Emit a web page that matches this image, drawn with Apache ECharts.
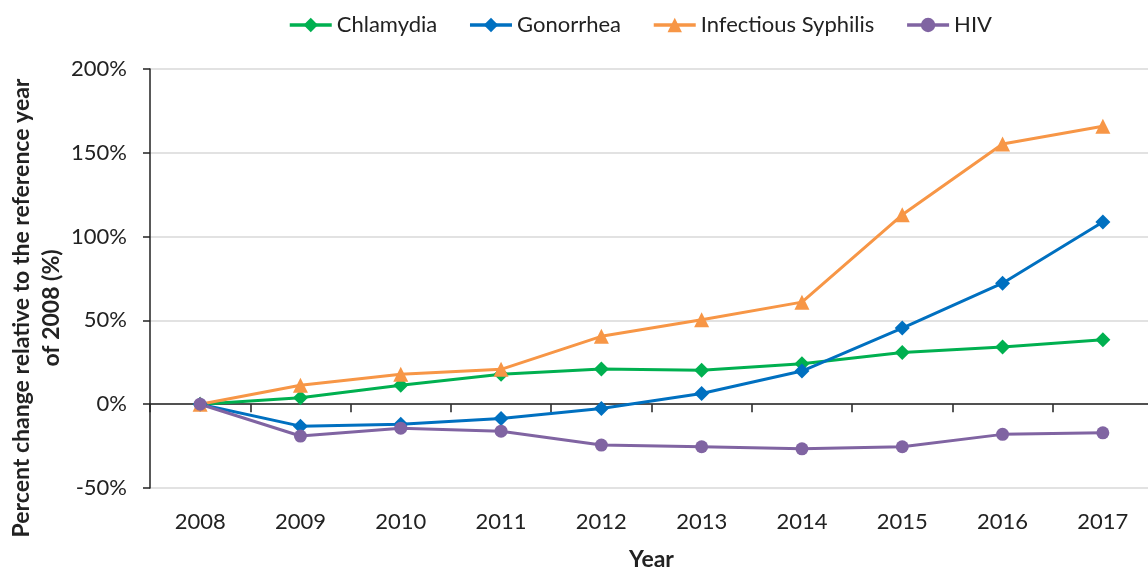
<!DOCTYPE html>
<html>
<head>
<meta charset="utf-8">
<script src="https://cdn.jsdelivr.net/npm/echarts@6/dist/echarts.min.js"></script>
<style>
  html, body { margin: 0; padding: 0; background: #fff; }
  #container { width: 1148px; height: 567px; }
</style>
</head>
<body>
<div id="container"></div>
<script>
// percent change relative to 2008
var years = ['2008', '2009', '2010', '2011', '2012', '2013', '2014', '2015', '2016', '2017'];
var chlamydia = [0, 3.8, 11.3, 17.9, 21.0, 20.2, 24.2, 30.8, 34.1, 38.5];
var gonorrhea = [0, -13.1, -11.9, -8.5, -2.6, 6.4, 19.8, 45.4, 72.2, 108.7];
var syphilis = [0, 11.3, 17.9, 20.8, 40.5, 50.4, 60.9, 113, 155.2, 165.9];
var hiv = [0, -19, -14.3, -16.1, -24.4, -25.4, -26.6, -25.4, -18, -17.1];

var dom = document.getElementById('container');
var myChart = echarts.init(dom);
var font = 'Lato, "Open Sans", sans-serif';

var mkSeries = function (name, data, color, symbol, size) {
    return {
        name: name,
        type: 'line',
        data: data,
        symbol: symbol,
        symbolSize: size,
        lineStyle: { color: color, width: 3 },
        itemStyle: { color: color },
        animation: false
    };
};

var option = {
    backgroundColor: '#fff',
    textStyle: { fontFamily: font },
    legend: {
        left: 283,
        top: 9,
        itemWidth: 42,
        itemHeight: 18,
        itemGap: 31,
        lineStyle: { width: 3.5 },
        textStyle: { fontSize: 22, color: '#222', fontFamily: font },
        data: ['Chlamydia', 'Gonorrhea', 'Infectious Syphilis', 'HIV']
    },
    grid: { left: 150, top: 69, width: 1003, height: 419, outerBoundsMode: 'none' },
    xAxis: [
        {
            type: 'category',
            data: years,
            boundaryGap: true,
            axisLine: { onZero: true, lineStyle: { color: '#222', width: 1.5 } },
            axisTick: { show: true, length: 8, lineStyle: { color: '#222', width: 1.5 } },
            axisLabel: { show: false },
            splitLine: { show: false }
        },
        {
            type: 'category',
            data: years,
            position: 'bottom',
            boundaryGap: true,
            axisLine: { show: false, onZero: false },
            axisTick: { show: false },
            axisLabel: { fontSize: 22, color: '#222', margin: 23, fontFamily: font },
            name: 'Year',
            nameLocation: 'middle',
            nameGap: 60,
            nameTextStyle: { fontSize: 23, fontWeight: 'bold', color: '#222', fontFamily: font }
        }
    ],
    yAxis: {
        type: 'value',
        min: -50,
        max: 200,
        interval: 50,
        axisLine: { show: true, lineStyle: { color: '#222', width: 1.5 } },
        axisTick: { show: true, length: 7, lineStyle: { color: '#222', width: 1.5 } },
        axisLabel: { formatter: '{value}%', fontSize: 22, color: '#222', margin: 23, fontFamily: font },
        splitLine: { lineStyle: { color: '#d9d9d9', width: 1.5 } }
    },
    graphic: [{
        type: 'text',
        x: 37,
        y: 308,
        rotation: Math.PI / 2,
        style: {
            text: 'Percent change relative to the reference year\nof 2008 (%)',
            fontSize: 23,
            fontWeight: 'bold',
            fontFamily: font,
            fill: '#222',
            align: 'center',
            verticalAlign: 'middle',
            lineHeight: 30
        }
    }],
    series: [
        mkSeries('Chlamydia', chlamydia, '#00b050', 'diamond', 15),
        mkSeries('Gonorrhea', gonorrhea, '#0070c0', 'diamond', 15),
        mkSeries('Infectious Syphilis', syphilis, '#f79646', 'triangle', 15),
        mkSeries('HIV', hiv, '#8064a2', 'circle', 13)
    ]
};
myChart.setOption(option);
</script>
</body>
</html>
